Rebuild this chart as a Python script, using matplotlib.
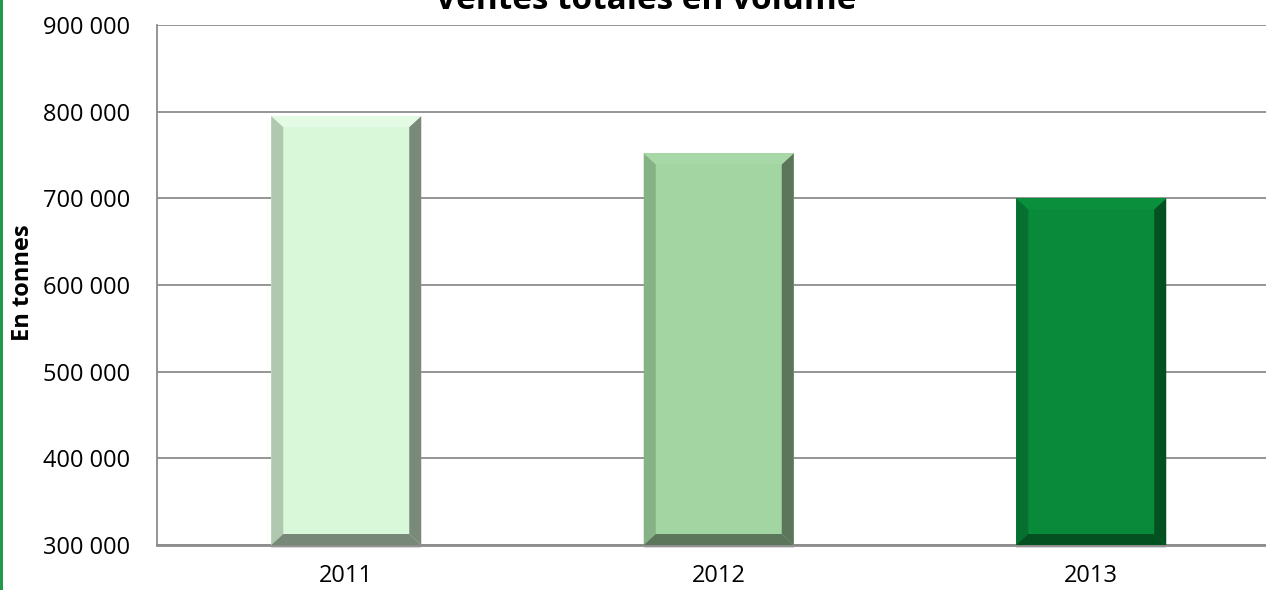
import matplotlib.pyplot as plt
from matplotlib.patches import Polygon, Rectangle
from matplotlib.ticker import FuncFormatter

plt.rcParams['font.family'] = ['Open Sans', 'DejaVu Sans']

annees = ["2011", "2012", "2013"]
ventes = [795000, 752000, 700000]

# face, bord gauche, bord droit, haut, bas
couleurs = [
    ("#d9f7d9", "#b0c8b0", "#7a8a7a", "#e4fae4", "#788878"),
    ("#a2d5a2", "#86b386", "#5c765c", "#a8d8a8", "#5c765c"),
    ("#088a3a", "#077030", "#045020", "#0a8f3d", "#045020"),
]

fig = plt.figure(figsize=(12.66, 5.9), dpi=100)
pas = 372.5  # pixels par categorie
ax_w = 160 + 3 * pas - 157
ax = fig.add_axes([157/1266, 1-545/590, ax_w/1266, 520/590])

ymin, ymax = 300000, 900000
ax.set_xlim(-0.5 - 3/pas, 2.5)
ax.set_ylim(ymin, ymax)

# taille des biseaux en pixels -> unites de donnees
px_x = 1 / pas
px_y = (ymax - ymin) / 520
bx = 12 * px_x
by = 11 * px_y
largeur = 150 * px_x

for i, (v, c) in enumerate(zip(ventes, couleurs)):
    face, cg, cd, ch, cb = c
    x0, x1 = i - largeur/2, i + largeur/2
    y0, y1 = ymin, v
    # ombre
    ax.add_patch(Rectangle((x0, y0 - 3*px_y), largeur, 3*px_y, color="#d8d8d8",
                           zorder=2, clip_on=False, lw=0))
    ax.add_patch(Rectangle((x0, y0), largeur, y1 - y0, color=face, zorder=3, lw=0))
    ax.add_patch(Polygon([(x0, y0), (x0 + bx, y0 + by), (x0 + bx, y1 - by), (x0, y1)],
                         color=cg, zorder=4, lw=0))
    ax.add_patch(Polygon([(x1, y0), (x1 - bx, y0 + by), (x1 - bx, y1 - by), (x1, y1)],
                         color=cd, zorder=4, lw=0))
    ax.add_patch(Polygon([(x0, y1), (x0 + bx, y1 - by), (x1 - bx, y1 - by), (x1, y1)],
                         color=ch, zorder=4, lw=0))
    ax.add_patch(Polygon([(x0, y0), (x0 + bx, y0 + by), (x1 - bx, y0 + by), (x1, y0)],
                         color=cb, zorder=4, lw=0))

ax.set_xticks(range(len(annees)))
ax.set_xticklabels(annees)
ax.set_yticks(range(300000, 900001, 100000))
ax.yaxis.set_major_formatter(FuncFormatter(lambda v, p: f"{int(v):,}".replace(",", " ")))
ax.tick_params(axis='both', length=0, labelsize=17, colors="#000000")
ax.tick_params(axis='y', pad=19)
ax.tick_params(axis='x', pad=14)

ax.grid(axis='y', color="#8c8c8c", lw=1.3, zorder=1)
ax.set_axisbelow(True)
for s in ["top", "right"]:
    ax.spines[s].set_visible(False)
ax.spines["left"].set_color("#8c8c8c")
ax.spines["left"].set_linewidth(1.3)
ax.spines["bottom"].set_color("#8c8c8c")
ax.spines["bottom"].set_linewidth(2)

fig.text(23/1266, 1-283/590, "En tonnes", rotation=90, ha='center', va='center',
         fontsize=17, fontweight='bold')
fig.text(646/1266, 1-9/590, "Ventes totales en volume", ha='center', va='baseline',
         fontsize=24, fontweight='bold')

# bordure verte a gauche
fig.add_artist(Rectangle((0, 0), 2.5/1266, 1, transform=fig.transFigure,
                         color="#1e9a4a", lw=0))

fig.savefig("out.png", dpi=100)
